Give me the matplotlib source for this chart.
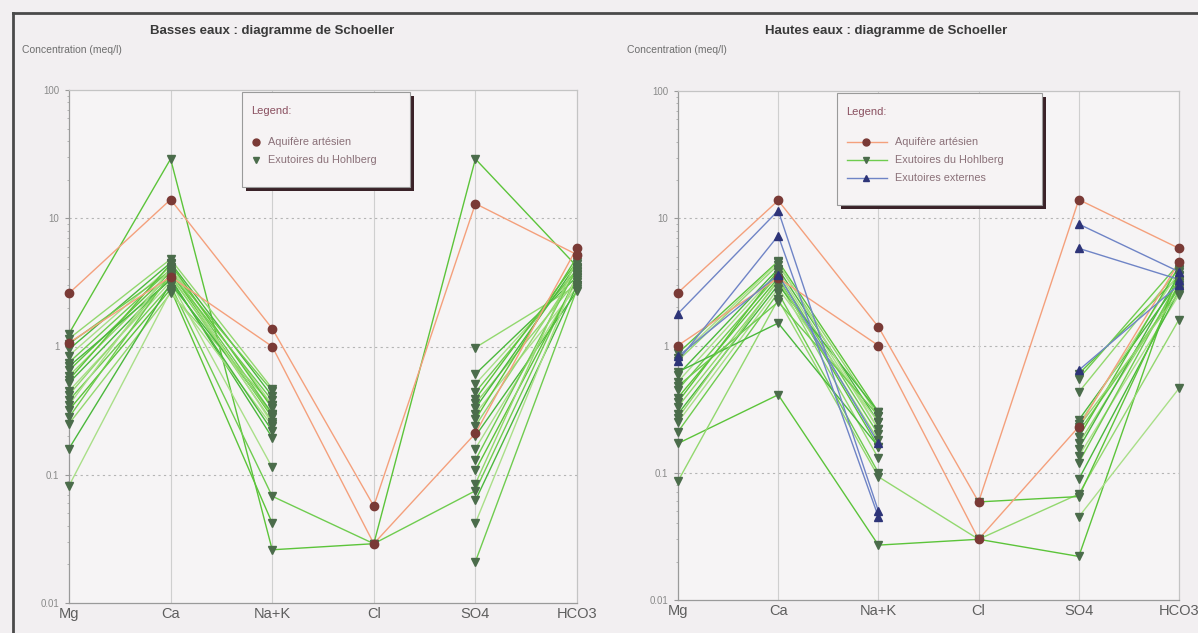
import numpy as np
import matplotlib
matplotlib.use("Agg")
import matplotlib.pyplot as plt
from matplotlib.lines import Line2D
from matplotlib.patches import Rectangle
from matplotlib.ticker import FixedLocator, NullFormatter

plt.rcParams["font.family"] = ["Liberation Sans", "DejaVu Sans"]

nan = np.nan

# Ions on the Schoeller axis
ions = ["Mg", "Ca", "Na+K", "Cl", "SO4", "HCO3"]
y_ticks = [0.01, 0.1, 1, 10, 100]
y_tick_labels = ["0.01", "0.1", "1", "10", "100"]

# Low-water campaign (meq/l): Mg, Ca, Na+K, Cl, SO4, HCO3
low_aquifer = [
    [2.6, 14.0, 1.38, 0.057, 13.0, 5.2],
    [1.07, 3.5, 1.0, 0.029, 0.21, 5.9],
]
low_hohlberg = [
    [1.26, 29.0, 0.026, 0.029, 29.0, 4.2],
    [1.15, 4.8, 0.47, nan, 0.98, 3.0],
    [0.95, 4.5, 0.41, nan, 0.61, 3.5],
    [0.85, 4.2, 0.35, nan, 0.51, 3.8],
    [0.75, 4.0, 0.30, nan, 0.44, 4.0],
    [0.65, 3.8, 0.28, nan, 0.39, 4.6],
    [0.59, 3.6, 0.26, nan, 0.36, 3.3],
    [0.52, 3.4, 0.195, nan, 0.33, 4.4],
    [0.45, 3.2, 0.114, nan, 0.30, 2.9],
    [0.38, 3.0, 0.068, 0.029, 0.075, 3.6],
    [0.32, 2.8, 0.042, nan, 0.27, 5.0],
    [0.25, 2.6, 0.35, nan, 0.24, 3.9],
    [0.16, 3.1, 0.30, nan, 0.20, 2.7],
    [0.082, 2.7, 0.24, nan, 0.16, 3.2],
    [1.05, 3.9, 0.45, nan, 0.13, 4.1],
    [0.55, 4.4, 0.33, nan, 0.108, 3.4],
    [0.42, 3.5, 0.29, nan, 0.085, 4.8],
    [0.70, 3.3, 0.22, nan, 0.063, 3.0],
    [0.35, 4.1, 0.25, nan, 0.042, 3.7],
    [0.28, 3.7, 0.38, nan, 0.021, 2.8],
]

# High-water campaign (meq/l)
high_aquifer = [
    [2.6, 13.8, 1.4, 0.059, 14.0, 5.8],
    [1.0, 3.4, 1.0, 0.030, 0.23, 4.5],
]
high_hohlberg = [
    [0.87, 4.6, 0.30, nan, 0.60, 3.5],
    [0.76, 4.3, 0.28, nan, 0.43, 4.0],
    [0.59, 4.0, 0.25, nan, 0.26, 3.2],
    [0.52, 3.8, 0.22, nan, 0.24, 3.8],
    [0.45, 3.6, 0.20, nan, 0.21, 2.8],
    [0.39, 3.4, 0.16, nan, 0.19, 4.2],
    [0.33, 3.2, 0.13, nan, 0.17, 3.0],
    [0.29, 3.0, 0.30, nan, 0.155, 3.6],
    [0.25, 2.8, 0.25, nan, 0.135, 2.5],
    [0.21, 2.6, 0.10, nan, 0.12, 3.3],
    [0.17, 0.41, 0.027, 0.030, 0.022, 3.9],
    [0.086, 2.3, 0.093, 0.030, 0.068, 1.6],
    [0.62, 1.5, 0.16, nan, 0.089, 2.7],
    [0.80, 4.5, 0.22, nan, 0.045, 0.46],
    [0.48, 2.2, 0.28, nan, 0.55, 4.4],
    [0.36, 3.9, nan, 0.059, 0.065, 3.1],
    [0.27, 3.3, 0.18, nan, 0.23, 2.6],
]
high_external = [
    [1.78, 11.5, 0.050, nan, 9.0, 3.8],
    [0.76, 7.3, 0.045, nan, 5.8, 3.3],
    [0.82, 3.6, 0.17, nan, 0.64, 3.0],
]

aq_line, aq_mark = "#f4a07c", "#7a3a36"
ext_line, ext_mark = "#6f84c6", "#2e3478"
green_lines = ["#5cc43a", "#92d86e", "#4bb83c", "#a9df88", "#6fcc4f"]
green_mark = "#4b6c4b"
bg = "#f2eff1"
legend_text = "#8a7078"

W, H = 1198.0, 633.0
fig = plt.figure(figsize=(W / 100, H / 100), dpi=100, facecolor=bg)


def fx(x):
    return x / W


def fy(y):
    return 1 - y / H


def make_axes(x0, x1, ytop, ybot):
    return fig.add_axes([fx(x0), fy(ybot), (x1 - x0) / W, (ybot - ytop) / H])


def style_axes(ax):
    ax.set_facecolor("#f6f4f5")
    ax.set_yscale("log")
    ax.set_ylim(0.01, 100)
    ax.set_xlim(0, len(ions) - 1)
    ax.set_xticks(range(len(ions)))
    ax.set_xticklabels(ions, fontsize=10.5, color="#5e5e5e")
    ax.tick_params(axis="x", length=0, pad=3)
    ax.yaxis.set_major_locator(FixedLocator(y_ticks))
    ax.set_yticklabels(y_tick_labels)
    minors = [m * 10.0 ** e for e in range(-2, 2) for m in range(2, 10)]
    ax.yaxis.set_minor_locator(FixedLocator(minors))
    ax.yaxis.set_minor_formatter(NullFormatter())
    ax.tick_params(axis="y", which="major", length=3, pad=4, labelsize=7,
                   labelcolor="#8a8a8a", color="#999999")
    ax.tick_params(axis="y", which="minor", length=1.5, color="#aaaaaa")
    for s in ["left", "bottom"]:
        ax.spines[s].set_color("#9a9a9a")
    for s in ["top", "right"]:
        ax.spines[s].set_color("#c4c4c4")
    for sp in ax.spines.values():
        sp.set_linewidth(0.9)
    for v in [0.1, 1, 10]:
        ax.axhline(v, color="#b5b5b5", lw=0.8, ls=(0, (2, 3)), zorder=0.5)
    for i in range(1, len(ions) - 1):
        ax.axvline(i, color="#cfcfcf", lw=0.8, zorder=0.5)


def draw_group(ax, rows, colors, mcolor, marker, ms):
    x = np.arange(len(ions))
    for k, row in enumerate(rows):
        y = np.array(row, dtype=float)
        ax.plot(x, y, color=colors[k % len(colors)], lw=1.0, zorder=2)
    for row in rows:
        y = np.array(row, dtype=float)
        ax.plot(x, y, ls="none", marker=marker, ms=ms, color=mcolor,
                mec=mcolor, zorder=4, clip_on=False)


def legend_panel(x0, y0, x1, y1, entries, title_y, first_y, step, with_lines):
    """Boxed legend with a solid drop shadow, placed in figure pixels."""
    w, h = (x1 - x0) / W, (y1 - y0) / H
    fig.add_artist(Rectangle((fx(x0 + 4), fy(y1 + 4)), w, h, transform=fig.transFigure,
                             facecolor="#3a2228", edgecolor="none", zorder=20))
    fig.add_artist(Rectangle((fx(x0), fy(y1)), w, h, transform=fig.transFigure,
                             facecolor="#f6f3f4", edgecolor="#9a9a9a", lw=0.8, zorder=21))
    fig.text(fx(x0 + 9), fy(title_y), "Legend:", ha="left", va="center",
             fontsize=8, color="#8a5060", zorder=22)
    for k, (label, lcolor, mcolor, marker) in enumerate(entries):
        yy = first_y + k * step
        if with_lines:
            fig.add_artist(Line2D([fx(x0 + 10), fx(x0 + 50)], [fy(yy), fy(yy)],
                                  color=lcolor, lw=1.0, transform=fig.transFigure, zorder=22))
            mx, tx = x0 + 29, x0 + 58
        else:
            mx, tx = x0 + 14, x0 + 26
        fig.add_artist(Line2D([fx(mx)], [fy(yy)], ls="none", marker=marker, ms=5,
                              color=mcolor, transform=fig.transFigure, zorder=23))
        fig.text(fx(tx), fy(yy), label, ha="left", va="center", fontsize=7.8,
                 color=legend_text, zorder=22)


# Left panel: low water
axL = make_axes(69, 577, 90, 603)
style_axes(axL)
draw_group(axL, low_hohlberg, green_lines, green_mark, "v", 6)
draw_group(axL, low_aquifer, [aq_line], aq_mark, "o", 6)
legend_panel(242, 92, 410, 187,
             [("Aquifère artésien", aq_line, aq_mark, "o"),
              ("Exutoires du Hohlberg", "#6fcc4f", green_mark, "v")],
             111, 142, 18, False)

# Right panel: high water
axR = make_axes(678, 1179, 91, 600)
style_axes(axR)
draw_group(axR, high_hohlberg, green_lines, green_mark, "v", 6)
draw_group(axR, high_aquifer, [aq_line], aq_mark, "o", 6)
draw_group(axR, high_external, [ext_line], ext_mark, "^", 6)
legend_panel(837, 93, 1042, 205,
             [("Aquifère artésien", aq_line, aq_mark, "o"),
              ("Exutoires du Hohlberg", "#6fcc4f", green_mark, "v"),
              ("Exutoires externes", ext_line, ext_mark, "^")],
             112, 142, 18, True)

# Titles and axis captions
fig.text(fx(272), fy(31), "Basses eaux : diagramme de Schoeller",
         ha="center", va="center", fontsize=9.5, fontweight="bold", color="#3a3a3a")
fig.text(fx(886), fy(31), "Hautes eaux : diagramme de Schoeller",
         ha="center", va="center", fontsize=9.5, fontweight="bold", color="#3a3a3a")
fig.text(fx(22), fy(50), "Concentration (meq/l)", ha="left", va="center",
         fontsize=7.5, color="#6e6e6e")
fig.text(fx(627), fy(50), "Concentration (meq/l)", ha="left", va="center",
         fontsize=7.5, color="#6e6e6e")

# Outer frame
fig.add_artist(Line2D([fx(13), fx(13)], [0, fy(13)], color="#4a4a4a", lw=2))
fig.add_artist(Line2D([fx(13), 1], [fy(13), fy(13)], color="#4a4a4a", lw=2))

fig.savefig("out.png", dpi=100, facecolor=bg)
